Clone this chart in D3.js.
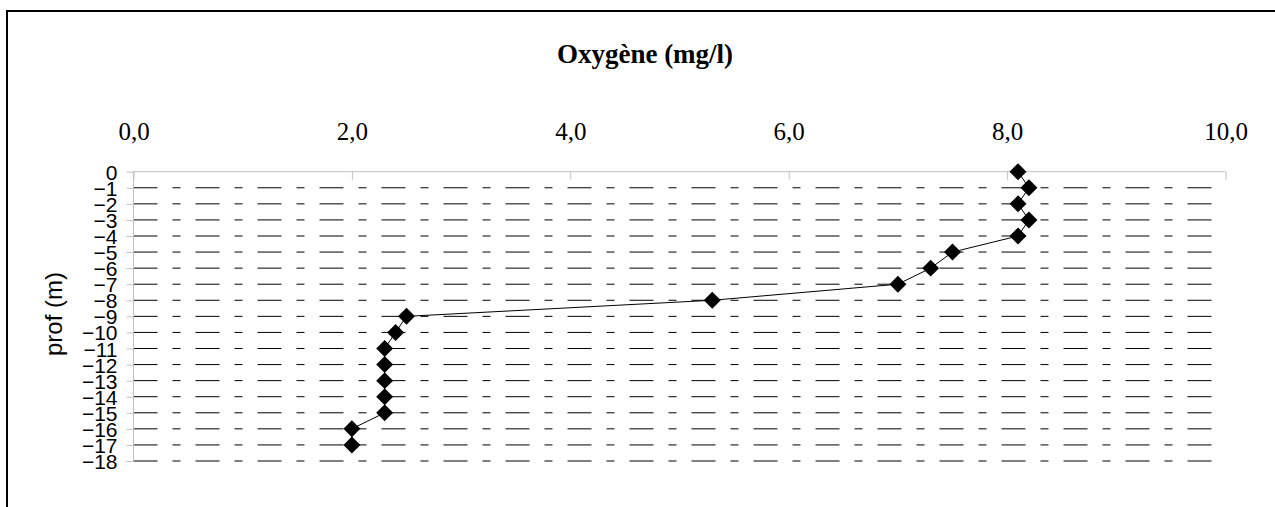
<!DOCTYPE html>
<html><head><meta charset="utf-8">
<script src="https://cdn.jsdelivr.net/npm/d3@7"></script>
<style>html,body{margin:0;padding:0;background:#fff;overflow:hidden}</style>
</head><body>
<svg id="c" width="1275" height="507"></svg>
<script>
const depths = [0,-1,-2,-3,-4,-5,-6,-7,-8,-9,-10,-11,-12,-13,-14,-15,-16,-17];
const oxygen = [8.1,8.2,8.1,8.2,8.1,7.5,7.3,7.0,5.3,2.5,2.4,2.3,2.3,2.3,2.3,2.3,2.0,2.0];
const xTicks = [0,2,4,6,8,10];
const yTicks = [0,-1,-2,-3,-4,-5,-6,-7,-8,-9,-10,-11,-12,-13,-14,-15,-16,-17,-18];
const title = "Oxygène (mg/l)";
const yTitle = "prof (m)";

const svg = d3.select("#c");
svg.append("rect").attr("x",7).attr("y",11).attr("width",1400).attr("height",600)
  .attr("fill","none").attr("stroke","#000").attr("stroke-width",2);

const x = d3.scaleLinear().domain([0,10]).range([133.5,1225.5]);
const y = d3.scaleLinear().domain([0,-18]).range([171.7,461]);

// gridlines
svg.append("g").selectAll("line").data(yTicks.filter(d=>d!==0)).join("line")
  .attr("x1",x(0)).attr("x2",x(10)).attr("y1",d=>y(d)).attr("y2",d=>y(d))
  .attr("stroke","#000").attr("stroke-width",1).attr("stroke-dasharray","24,15,8,15");

// top axis
const fmt = d => d3.format(".1f")(d).replace(".",",");
const gx = svg.append("g").attr("transform",`translate(0,${y(0)})`)
  .call(d3.axisBottom(x).tickValues(xTicks).tickSize(8).tickFormat(fmt));
gx.select(".domain").attr("stroke","#c0c0c0").attr("d",`M${x(0)},0H${x(10)}`);
gx.selectAll(".tick line").attr("stroke","#c0c0c0");
gx.selectAll(".tick text").attr("y",-32).attr("dy",0)
  .attr("font-family","'Liberation Serif','Times New Roman',serif").attr("font-size",25).attr("fill","#000");

// left axis
const gy = svg.append("g").attr("transform",`translate(${x(0)},0)`)
  .call(d3.axisLeft(y).tickValues(yTicks).tickSize(7).tickFormat(d3.format("d")));
gy.select(".domain").attr("stroke","#c0c0c0").attr("d",`M0,${y(0)}V${y(-18)}`);
gy.selectAll(".tick line").attr("stroke","#c0c0c0");
gy.selectAll(".tick text").attr("x",-16).attr("dy","0.36em")
  .attr("font-family","'Liberation Sans',Arial,sans-serif").attr("font-size",21).attr("fill","#000");

// titles
svg.append("text").attr("x",645).attr("y",63).attr("text-anchor","middle")
  .attr("font-family","'Liberation Serif','Times New Roman',serif").attr("font-weight","bold")
  .attr("font-size",27).text(title);
svg.append("text").attr("transform","translate(62,314) rotate(-90)").attr("text-anchor","middle")
  .attr("font-family","'Liberation Sans',Arial,sans-serif").attr("font-size",24).text(yTitle);

// line
const pts = depths.map((d,i)=>[oxygen[i],d]);
svg.append("path").datum(pts)
  .attr("d",d3.line().x(d=>x(d[0])).y(d=>y(d[1])))
  .attr("fill","none").attr("stroke","#000").attr("stroke-width",1);

// markers
svg.append("g").selectAll("path").data(pts).join("path")
  .attr("transform",d=>`translate(${x(d[0])},${y(d[1])}) rotate(45)`)
  .attr("d",d3.symbol(d3.symbolSquare,144)).attr("fill","#000");
</script>
</body></html>
